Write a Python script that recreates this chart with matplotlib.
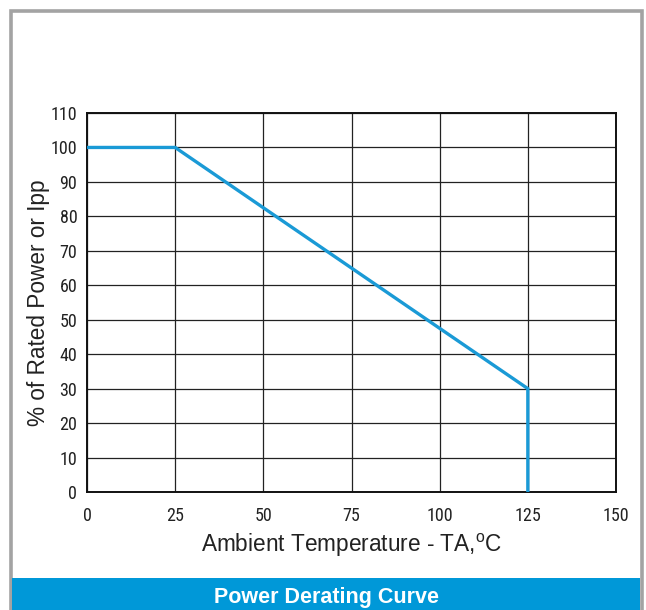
import matplotlib
matplotlib.use("Agg")
import matplotlib.pyplot as plt
from matplotlib.patches import Rectangle
from matplotlib import font_manager

temps = [0, 25, 125, 125]
power = [100, 100, 30, 0]
xticks = [0, 25, 50, 75, 100, 125, 150]
yticks = list(range(0, 111, 10))

fl = font_manager.fontManager.ttflist
names = {f.name for f in fl}
narrow = None
for cand in ['Liberation Sans Narrow', 'Roboto Condensed', 'DejaVu Sans Condensed',
             'Open Sans Condensed', 'Noto Sans Condensed']:
    if cand in names:
        narrow = cand
        break
stretch = 'normal'
if narrow is None:
    for f in fl:
        if f.stretch in ('condensed', 'semi-condensed', 'extra-condensed') and 'Mono' not in f.name and 'Serif' not in f.name:
            narrow = f.name
            stretch = f.stretch
            break
if narrow is None:
    narrow = 'Liberation Sans'
plt.rcParams['font.family'] = [narrow, 'DejaVu Sans']
plt.rcParams['font.stretch'] = stretch
plt.rcParams['mathtext.fontset'] = 'custom'
plt.rcParams['mathtext.rm'] = 'Liberation Sans'

W, H = 646, 610
fig = plt.figure(figsize=(W/100, H/100), dpi=100)

fig.patches.append(Rectangle((10.5/W, -0.05), (641.5-10.5)/W, (H-10.5)/H + 0.05,
                             transform=fig.transFigure, fill=False,
                             edgecolor='#a3a3a3', linewidth=2.6))
fig.patches.append(Rectangle((12/W, 0), (640-12)/W, (610-578)/H,
                             transform=fig.transFigure, facecolor='#0098d8',
                             edgecolor='none'))
fig.text(327/W, 1-597/H, 'Power Derating Curve', color='white', fontsize=15.5,
         fontweight='bold', ha='center', va='center',
         family=['Liberation Sans', 'DejaVu Sans'], stretch='condensed')

ax = fig.add_axes([87/W, 1-492/H, (616-87)/W, (492-113)/H])
ax.plot(temps, power, color='#1a9ad6', linewidth=2.4, solid_joinstyle='miter', zorder=3)
ax.set_xlim(0, 150)
ax.set_ylim(0, 110)
ax.set_xticks(xticks)
ax.set_yticks(yticks)
ax.grid(True, color='#222222', linewidth=0.9)
ax.tick_params(axis='y', length=0, labelsize=13, colors='#222222', pad=7)
ax.tick_params(axis='x', length=0, labelsize=13, colors='#222222', pad=11)
for s in ax.spines.values():
    s.set_linewidth(1.4)
    s.set_color('#111111')
lab_font = ['Liberation Sans', 'DejaVu Sans']
ax.set_xlabel(r'Ambient Temperature - TA,$^{\mathrm{o}}$C', fontsize=16.3, color='#222222',
              labelpad=5, family=lab_font, stretch='normal')
ax.set_ylabel('% of Rated Power or Ipp', fontsize=16.3, color='#222222', labelpad=0.5,
              family=lab_font, stretch='normal')

fig.savefig('out.png', dpi=100)
